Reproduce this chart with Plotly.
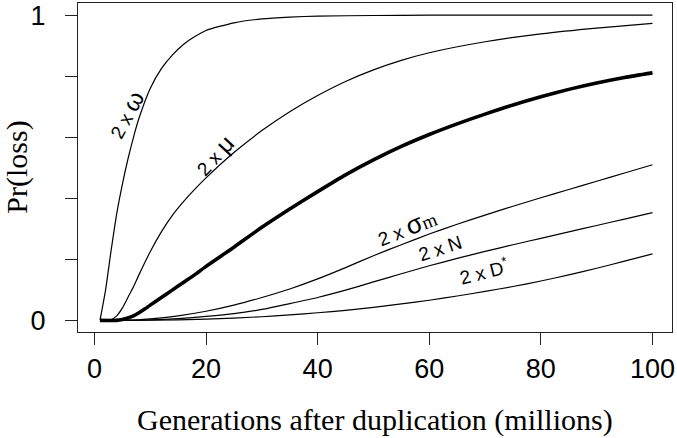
import plotly.graph_objects as go

# ---- data ----
gen_omega = [1, 2, 3, 4, 5, 6, 7, 8, 10, 12, 14, 16, 18, 20, 25, 30, 35, 40, 50, 60, 80, 100]
loss_omega = [0.0, 0.10, 0.23, 0.35, 0.445, 0.528, 0.60, 0.663, 0.76, 0.825, 0.87, 0.905, 0.93, 0.95,
              0.975, 0.988, 0.994, 0.997, 0.999, 1.0, 1.0, 1.0]

gen_mu = [1, 2, 3, 4, 5, 6, 7, 8, 10, 12, 14, 16, 18, 20, 25, 30, 35, 40, 45, 50, 55, 60, 70, 80, 90, 100]
loss_mu = [0.0, 0.0, 0.003, 0.015, 0.04, 0.075, 0.11, 0.15, 0.225, 0.29, 0.345, 0.39, 0.43, 0.467,
           0.55, 0.622, 0.684, 0.737, 0.783, 0.821, 0.852, 0.877, 0.913, 0.939, 0.958, 0.973]

gen_base = [1, 4, 5, 6, 7, 8, 9, 10, 12, 14, 16, 18, 20, 25, 30, 35, 40, 45, 50, 55, 60, 65, 70,
            75, 80, 85, 90, 95, 100]
loss_base = [0.0, 0.0, 0.003, 0.008, 0.015, 0.025, 0.037, 0.05, 0.075, 0.10, 0.125, 0.15, 0.177,
             0.24, 0.305, 0.365, 0.422, 0.477, 0.526, 0.570, 0.609, 0.644, 0.676, 0.706, 0.733,
             0.757, 0.778, 0.796, 0.811]

gen_sigma = [1, 8, 10, 15, 20, 25, 30, 35, 40, 45, 50, 55, 60, 65, 70, 75, 80, 85, 90, 95, 100]
loss_sigma = [0.0, 0.002, 0.005, 0.015, 0.03, 0.05, 0.075, 0.103, 0.136, 0.173, 0.212, 0.248,
              0.283, 0.315, 0.345, 0.374, 0.402, 0.429, 0.456, 0.483, 0.51]

gen_n = [1, 10, 15, 20, 25, 30, 35, 40, 45, 50, 55, 60, 65, 70, 75, 80, 85, 90, 95, 100]
loss_n = [0.0, 0.002, 0.006, 0.013, 0.022, 0.036, 0.055, 0.075, 0.099, 0.126, 0.153, 0.179,
          0.203, 0.226, 0.248, 0.269, 0.29, 0.311, 0.332, 0.353]

gen_d = [1, 10, 20, 30, 35, 40, 45, 50, 55, 60, 65, 70, 75, 80, 85, 90, 95, 100]
loss_d = [0.0, 0.0005, 0.004, 0.012, 0.018, 0.025, 0.033, 0.043, 0.054, 0.066, 0.08, 0.095,
          0.111, 0.129, 0.149, 0.171, 0.194, 0.218]

x_ticks = [0, 20, 40, 60, 80, 100]
y_ticks = [0, 0.2, 0.4, 0.6, 0.8, 1.0]
y_ticklabels = ["0", "", "", "", "", "1"]

labels = ["2 x <span style='font-size:24px'>ω</span>",
          "2 x <span style='font-size:24px'>μ</span>",
          "2 x <span style='font-size:26px'>σ</span><span style='font-family:Liberation Serif'>m</span>",
          "2 x N",
          "2 x D<sup>*</sup>"]
label_x = [5.6, 21.4, 56.0, 62.0, 69.8]
label_y = [0.675, 0.541, 0.305, 0.237, 0.163]
label_angle = [-61, -47, -21, -18, -14]

# ---- figure ----
fig = go.Figure()
series = [(gen_omega, loss_omega, 1.2), (gen_mu, loss_mu, 1.2), (gen_base, loss_base, 3.6),
          (gen_sigma, loss_sigma, 1.2), (gen_n, loss_n, 1.2), (gen_d, loss_d, 1.2)]
for xs, ys, w in series:
    fig.add_trace(go.Scatter(x=xs, y=ys, mode="lines",
                             line=dict(color="black", width=w, shape="spline", smoothing=0.6),
                             showlegend=False, hoverinfo="skip"))

for t, lx, ly, a in zip(labels, label_x, label_y, label_angle):
    fig.add_annotation(x=lx, y=ly, text=t, showarrow=False, textangle=a,
                       font=dict(family="Liberation Sans, Arial, sans-serif", size=19, color="black"),
                       xanchor="center", yanchor="middle")

fig.add_annotation(xref="paper", yref="paper", x=0.5, y=-0.267,
                   text="Generations after duplication (millions)", showarrow=False,
                   font=dict(family="Liberation Serif, serif", size=30, color="black"),
                   xanchor="center", yanchor="middle")
fig.add_annotation(xref="paper", yref="paper", x=-0.104, y=0.5, text="Pr(loss)",
                   showarrow=False, textangle=-90,
                   font=dict(family="Liberation Serif, serif", size=30, color="black"),
                   xanchor="center", yanchor="middle")

axis_common = dict(showgrid=False, zeroline=False, showline=True, mirror=True,
                   linecolor="#222", linewidth=1.3, ticks="outside", ticklen=12,
                   tickwidth=1.3, tickcolor="#222", automargin=False,
                   tickfont=dict(family="Liberation Sans, Arial, sans-serif", size=27, color="black"))

fig.update_xaxes(range=[-2.94, 103.5], tickvals=x_ticks, ticktext=[str(v) for v in x_ticks],
                 **axis_common)
fig.update_yaxes(range=[-0.038, 1.04], tickvals=y_ticks, ticktext=y_ticklabels,
                 ticklabelstandoff=14, **axis_common)

fig.update_layout(width=677, height=438, margin=dict(l=78, r=5, t=3, b=106),
                  plot_bgcolor="white", paper_bgcolor="white")

fig.write_html("out.html", config={"displayModeBar": False},
               post_script="document.body.style.margin='0';document.body.style.overflow='hidden';")
